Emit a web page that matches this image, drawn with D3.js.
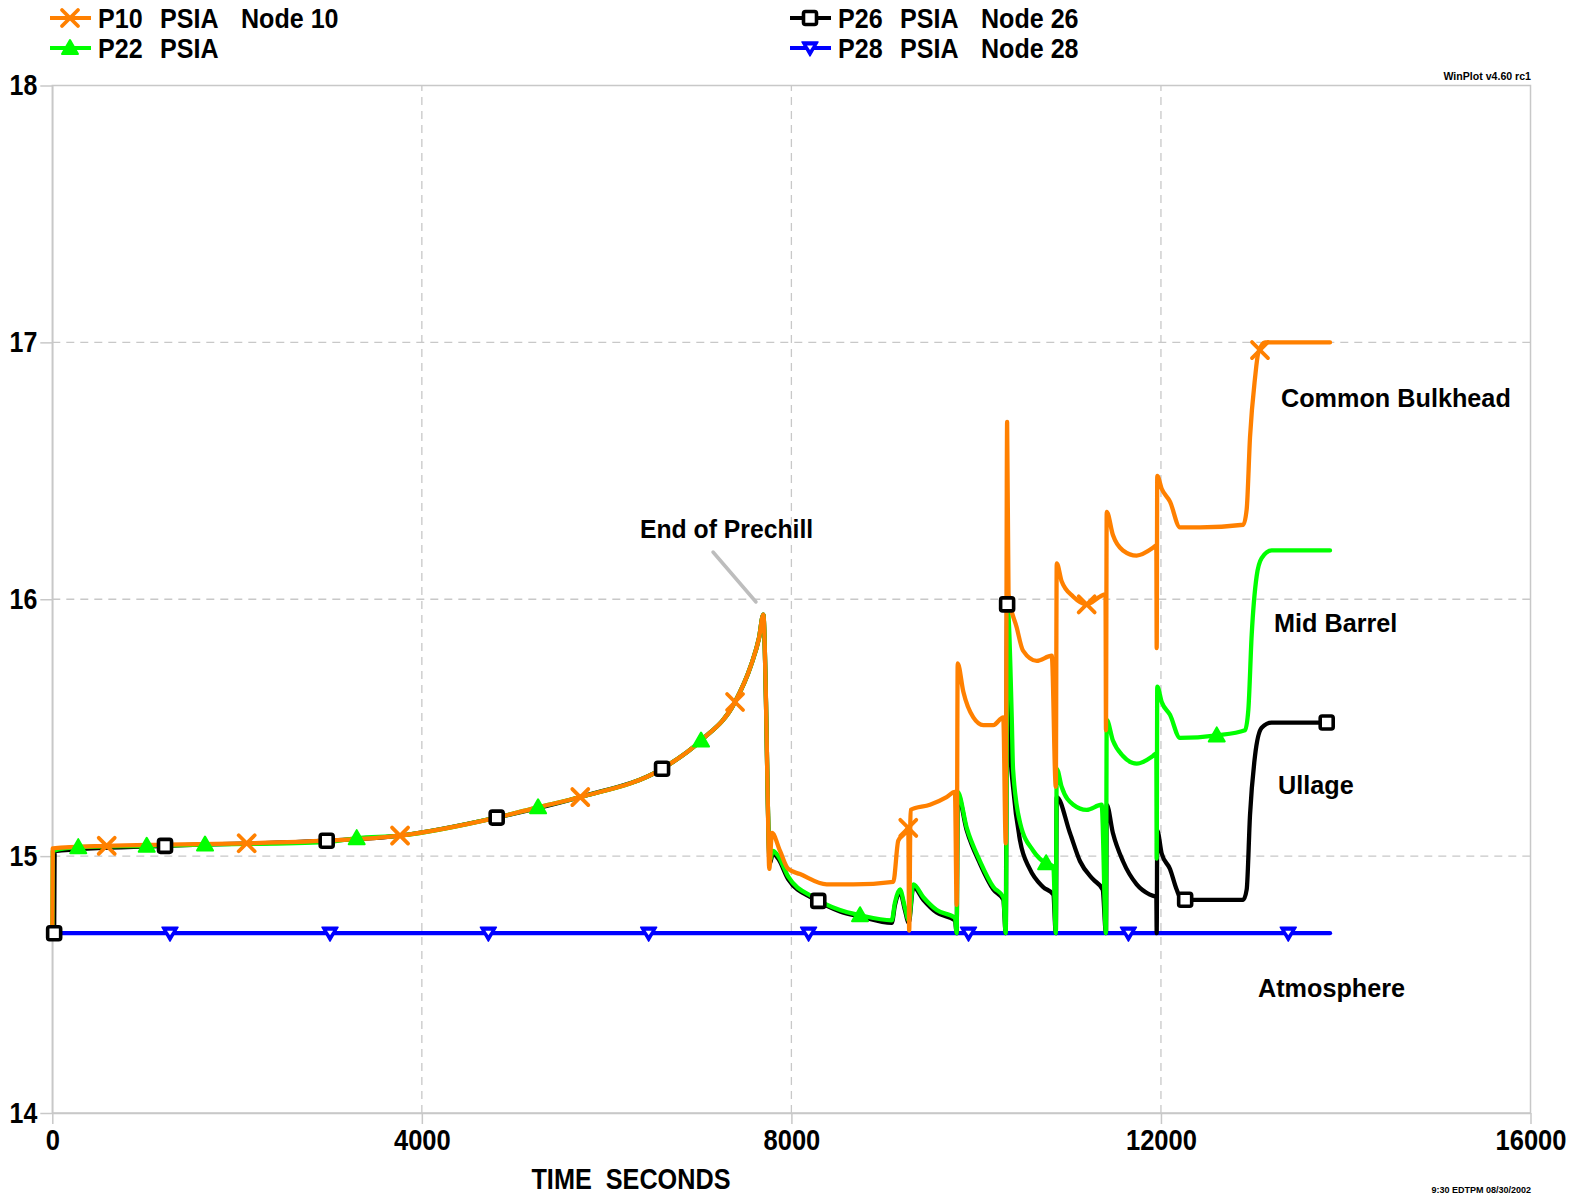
<!DOCTYPE html>
<html><head><meta charset="utf-8">
<script src="https://cdn.jsdelivr.net/npm/d3@7"></script>
<style>
body{margin:0;background:#fff}
svg{display:block}
text{font-family:"Liberation Sans",Arial,sans-serif;font-weight:bold;fill:#000}
</style>
</head><body>
<svg id="c" width="1577" height="1195"></svg>
<script>
// ---------------- data ----------------
const xTicks = [0, 4000, 8000, 12000, 16000];
const yTicks = [14, 15, 16, 17, 18];
const seriesNames = ["P10", "P22", "P26", "P28"];
const seriesUnits = ["PSIA", "PSIA", "PSIA", "PSIA"];
const seriesNodes = ["Node 10", "", "Node 26", "Node 28"];
const regionLabels = ["Common Bulkhead", "Mid Barrel", "Ullage", "Atmosphere"];
const noteLabel = "End of Prechill";
const xTitle = "TIME  SECONDS";

// P10 (Common Bulkhead) [seconds, psia]
const p10 = [[0,14.70],[5,15.03],[589,15.04],[1220,15.045],[2104,15.05],[2970,15.06],[3764,15.08],[4810,15.15],[5258,15.19],[5715,15.23],[6600,15.34],[7022,15.45],[7390,15.60],[7560,15.74],[7650,15.85],[7696,15.94],[7725,15.60],[7745,15.20],[7760,14.95],[7790,15.09],[7877,15.02],[7966,14.95],[8093,14.93],[8382,14.89],[8670,14.89],[9103,14.90],[9157,15.06],[9230,15.09],[9265,15.11],[9275,14.71],[9290,15.18],[9500,15.20],[9680,15.23],[9770,15.25],[9789,14.81],[9800,15.75],[9861,15.64],[9969,15.54],[10077,15.51],[10185,15.51],[10293,15.54],[10320,15.05],[10335,16.69],[10350,16.02],[10439,15.89],[10507,15.80],[10656,15.76],[10818,15.78],[10862,15.27],[10872,16.14],[10925,16.07],[11051,16.01],[11196,15.98],[11340,16.01],[11400,16.02],[11405,15.49],[11413,16.34],[11480,16.25],[11589,16.19],[11737,16.17],[11913,16.20],[11950,16.21],[11954,15.81],[11960,16.48],[12008,16.43],[12098,16.38],[12206,16.28],[12423,16.28],[12891,16.29],[12928,16.35],[12964,16.63],[13018,16.86],[13054,16.96],[13126,17.00],[13830,17.00]];
// P22 (Mid Barrel)
const p22 = [[0,14.70],[5,15.02],[281,15.035],[1022,15.04],[1653,15.045],[2970,15.055],[3295,15.07],[3764,15.08],[4810,15.15],[5258,15.19],[5715,15.23],[6600,15.34],[7022,15.45],[7390,15.60],[7560,15.74],[7650,15.85],[7696,15.94],[7725,15.60],[7745,15.20],[7765,14.98],[7800,15.02],[7858,15.00],[7966,14.92],[8237,14.84],[8526,14.79],[8743,14.77],[9086,14.75],[9121,14.82],[9175,14.87],[9229,14.80],[9270,14.75],[9320,14.89],[9428,14.84],[9573,14.79],[9771,14.76],[9789,14.70],[9800,15.25],[9898,15.11],[10042,14.98],[10186,14.88],[10294,14.84],[10320,14.70],[10340,15.97],[10385,15.54],[10399,15.34],[10475,15.13],[10619,15.02],[10764,14.97],[10835,14.96],[10862,14.70],[10872,15.34],[10925,15.27],[11051,15.20],[11196,15.18],[11358,15.20],[11405,14.70],[11413,15.53],[11480,15.45],[11589,15.39],[11737,15.36],[11913,15.39],[11950,15.40],[11954,14.99],[11960,15.66],[12008,15.60],[12098,15.55],[12206,15.46],[12604,15.47],[12910,15.49],[12946,15.57],[12982,15.86],[13036,16.09],[13090,16.16],[13198,16.19],[13830,16.19]];
// P26 (Ullage)
const p26 = [[0,14.70],[20,14.70],[25,15.02],[1220,15.04],[2970,15.06],[3764,15.08],[4810,15.15],[5715,15.23],[6600,15.34],[7022,15.45],[7390,15.60],[7560,15.74],[7650,15.85],[7696,15.94],[7725,15.60],[7745,15.20],[7765,14.97],[7800,15.01],[7858,14.99],[7966,14.91],[8237,14.835],[8526,14.785],[8743,14.765],[9086,14.74],[9121,14.81],[9175,14.86],[9229,14.79],[9270,14.74],[9320,14.88],[9428,14.83],[9573,14.78],[9771,14.75],[9789,14.70],[9800,15.24],[9898,15.10],[10042,14.97],[10186,14.87],[10294,14.83],[10320,14.70],[10335,15.98],[10370,15.41],[10399,15.27],[10475,15.06],[10580,14.95],[10724,14.88],[10835,14.85],[10862,14.70],[10872,15.23],[11015,15.09],[11124,14.98],[11264,14.91],[11369,14.87],[11405,14.70],[11413,15.20],[11480,15.09],[11589,14.98],[11737,14.89],[11880,14.85],[11950,14.84],[11954,14.70],[11960,15.10],[12008,15.01],[12098,14.95],[12170,14.87],[12225,14.83],[12891,14.83],[12928,14.87],[12964,15.16],[13018,15.39],[13090,15.50],[13198,15.52],[13830,15.52]];
// P28 (Atmosphere)
const p28 = [[0,14.70],[4000,14.70],[8000,14.70],[12000,14.70],[13830,14.70]];

// marker times (s)
const p10Marks = [589, 2104, 3764, 5715, 7390, 9265, 11196, 13072];
const p22Marks = [281, 1022, 1653, 3295, 5258, 7022, 8743, 10757, 12604];
const p26Marks = [20, 1220, 2970, 4810, 6600, 8291, 10335, 12262, 13794];
const p28Marks = [1274, 3006, 4720, 6455, 8186, 9917, 11648, 13378];

// ---------------- drawing ----------------
const svg = d3.select("#c");
const x = d3.scaleLinear().domain([0, 16000]).range([52.3, 1530.5]);
const y = d3.scaleLinear().domain([14, 18]).range([1113, 85.5]);
const GRID = "#c8c8c8";

function condense(sel, f) {
  sel.each(function () {
    const L = this.getComputedTextLength();
    this.setAttribute("textLength", L * f);
    this.setAttribute("lengthAdjust", "spacingAndGlyphs");
  });
}

// grid
const g = svg.append("g");
g.selectAll(".vg").data(xTicks.slice(1, -1)).enter().append("line")
  .attr("x1", d => x(d)).attr("x2", d => x(d)).attr("y1", y(14)).attr("y2", y(18))
  .attr("stroke", GRID).attr("stroke-width", 1.3).attr("stroke-dasharray", "8,6");
g.selectAll(".hg").data(yTicks.slice(1, -1)).enter().append("line")
  .attr("x1", x(0)).attr("x2", x(16000)).attr("y1", d => y(d)).attr("y2", d => y(d))
  .attr("stroke", GRID).attr("stroke-width", 1.3).attr("stroke-dasharray", "8,6");
// frame
g.append("rect").attr("x", x(0)).attr("y", y(18)).attr("width", x(16000) - x(0)).attr("height", y(14) - y(18))
  .attr("fill", "none").attr("stroke", GRID).attr("stroke-width", 1.5);

// axes
const ya = svg.append("g").attr("transform", `translate(${x(0)},0)`)
  .call(d3.axisLeft(y).tickValues(yTicks).tickSize(12).tickSizeOuter(0).tickPadding(3).tickFormat(d3.format("d")));
const xa = svg.append("g").attr("transform", `translate(0,${y(14)})`)
  .call(d3.axisBottom(x).tickValues(xTicks).tickSize(11).tickSizeOuter(0).tickPadding(5).tickFormat(d3.format("d")));
[ya, xa].forEach(a => {
  a.select(".domain").attr("stroke", GRID).attr("stroke-width", 1.5);
  a.selectAll(".tick line").attr("stroke", GRID).attr("stroke-width", 1.5);
  a.selectAll(".tick text").attr("font-size", 29).attr("font-family", null).attr("fill", "#000");
});
condense(ya.selectAll(".tick text"), 0.86);
condense(xa.selectAll(".tick text"), 0.88);

const xt = svg.append("text").attr("x", 631).attr("y", 1189).attr("text-anchor", "middle")
  .attr("font-size", 29).style("white-space", "pre").text(xTitle);
condense(xt, 0.87);

// lines
const line = d3.line().x(d => x(d[0])).y(d => y(d[1])).curve(d3.curveMonotoneX);
const series = [
  {data: p28, color: "#0000ff", marks: p28Marks, shape: "down"},
  {data: p26, color: "#000000", marks: p26Marks, shape: "square"},
  {data: p22, color: "#00ff00", marks: p22Marks, shape: "up"},
  {data: p10, color: "#ff8000", marks: p10Marks, shape: "x"}
];
function interp(data, t) {
  const i = d3.bisector(d => d[0]).left(data, t);
  if (i <= 0) return data[0][1];
  if (i >= data.length) return data[data.length - 1][1];
  const a = data[i - 1], b = data[i];
  return a[1] + (b[1] - a[1]) * (t - a[0]) / (b[0] - a[0]);
}
function drawMarker(sel, shape, color, cx, cy) {
  const m = sel.append("g").attr("transform", `translate(${cx},${cy})`);
  if (shape === "x") {
    m.append("path").attr("d", "M-8,-8L8,8M-8,8L8,-8").attr("stroke", color).attr("stroke-width", 3.8).attr("stroke-linecap", "round");
  } else if (shape === "up") {
    m.append("path").attr("d", "M0,-8L8,6L-8,6Z").attr("fill", color).attr("stroke", color).attr("stroke-width", 2).attr("stroke-linejoin", "round");
  } else if (shape === "down") {
    m.append("path").attr("d", "M-8,-6L8,-6L0,8Z").attr("fill", color).attr("stroke", color).attr("stroke-width", 1.5).attr("stroke-linejoin", "round");
    m.append("path").attr("d", "M-3,-2.5L3,-2.5L0,2Z").attr("fill", "#fff");
  } else {
    m.append("rect").attr("x", -6.5).attr("y", -6.5).attr("width", 13).attr("height", 13).attr("rx", 2)
      .attr("fill", "#fff").attr("stroke", color).attr("stroke-width", 3.6);
  }
}
series.forEach(s => {
  svg.append("path").datum(s.data).attr("d", line).attr("fill", "none")
    .attr("stroke", s.color).attr("stroke-width", 4.3).attr("stroke-linejoin", "round").attr("stroke-linecap", "round");
});
series.forEach(s => {
  const mg = svg.append("g");
  s.marks.forEach(t => drawMarker(mg, s.shape, s.color, x(t), y(interp(s.data, t))));
});

// legend
const legendColors = ["#ff8000", "#00ff00", "#000000", "#0000ff"];
const legendShapes = ["x", "up", "square", "down"];
const legendPos = [[50, 18], [50, 48], [790, 18], [790, 48]];
seriesNames.forEach((n, i) => {
  const [lx, ly] = legendPos[i];
  svg.append("line").attr("x1", lx).attr("x2", lx + 41).attr("y1", ly).attr("y2", ly)
    .attr("stroke", legendColors[i]).attr("stroke-width", 4);
  drawMarker(svg, legendShapes[i], legendColors[i], lx + 20, ly);
  const parts = [[n, lx + 48], [seriesUnits[i], lx + 110], [seriesNodes[i], lx + 191]];
  parts.forEach(([txt, px]) => {
    if (!txt) return;
    const t = svg.append("text").attr("x", px).attr("y", ly + 10).attr("font-size", 28.5).text(txt);
    condense(t, 0.88);
  });
});

// annotations
const annPos = [[1281, 407], [1274, 632], [1278, 794], [1258, 997]];
regionLabels.forEach((t, i) => {
  const a = svg.append("text").attr("x", annPos[i][0]).attr("y", annPos[i][1]).attr("font-size", 26).text(t);
  condense(a, 0.97);
});
const nl = svg.append("text").attr("x", 640).attr("y", 538).attr("font-size", 25.5).text(noteLabel);
condense(nl, 0.97);
svg.append("line").attr("x1", 713).attr("y1", 552).attr("x2", 756).attr("y2", 602)
  .attr("stroke", "#bdbdbd").attr("stroke-width", 3.5).attr("stroke-linecap", "round");

// program stamps
const st = svg.append("text").attr("x", 1531).attr("y", 80).attr("text-anchor", "end").attr("font-size", 11.5).text("WinPlot v4.60 rc1");
condense(st, 0.92);
svg.append("text").attr("x", 1531).attr("y", 1193).attr("text-anchor", "end").attr("font-size", 9).text("9:30 EDTPM 08/30/2002");
</script>
</body></html>
